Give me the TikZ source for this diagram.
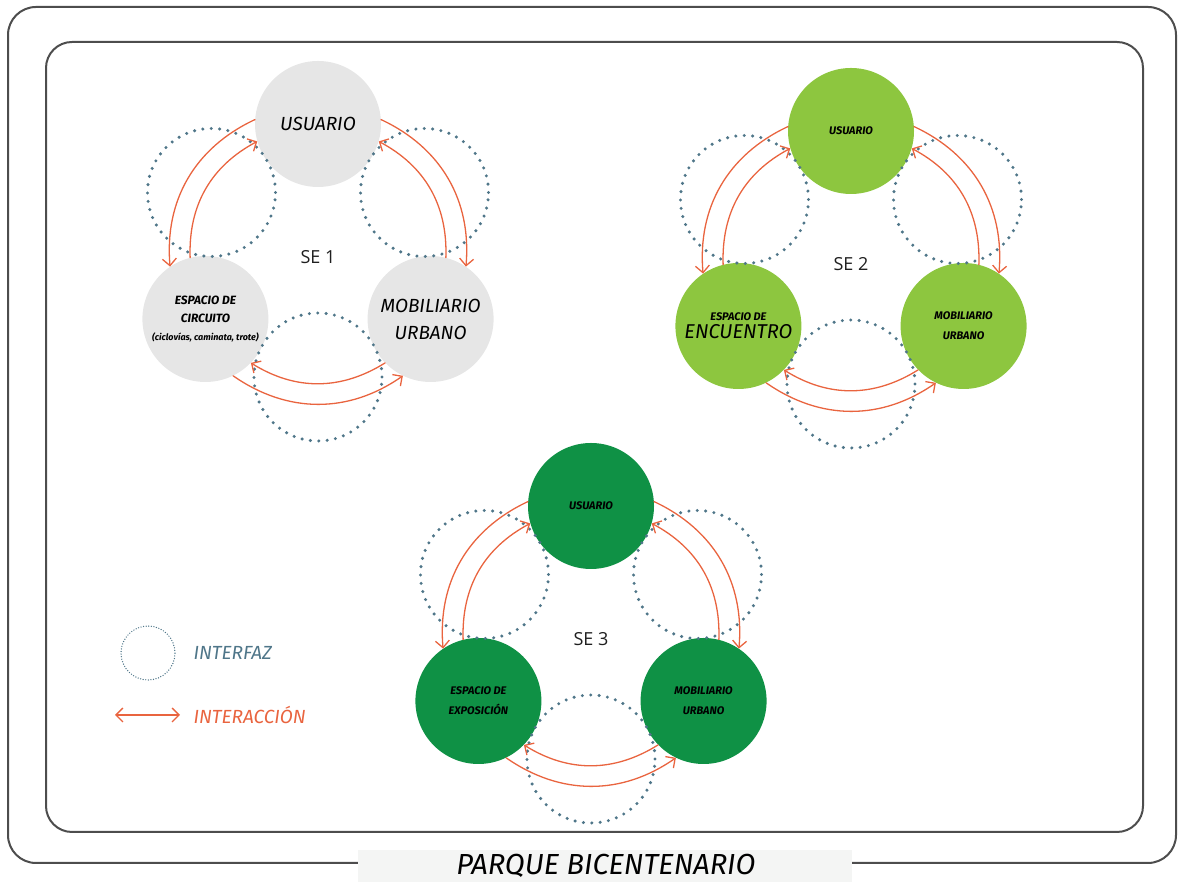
\documentclass[tikz,border=0pt]{standalone}
\usepackage{fontspec}
\setsansfont{Open Sans}
\newfontfamily\handfont{Fira Sans}
\usetikzlibrary{arrows.meta}
\definecolor{framegray}{HTML}{4D4D4D}
\definecolor{capgray}{HTML}{F4F5F4}
\definecolor{nodegray}{HTML}{E6E6E6}
\definecolor{lightgreen}{HTML}{8DC63F}
\definecolor{darkgreen}{HTML}{0F9145}
\definecolor{ifaceblue}{HTML}{4F7689}
\definecolor{interorange}{HTML}{E9643F}
\tikzset{every node/.style={font=\sffamily}}
\tikzset{
  sysnode/.style={circle,minimum size=126pt,inner sep=0pt,align=center,text=black},
  iface/.style={draw=ifaceblue,line width=3.4pt,line cap=round,dash pattern=on 0pt off 8.4pt},
  inter/.style={draw=interorange,line width=1.3pt,-{Straight Barb[length=7pt,width=14pt]}},
  selabel/.style={font=\sffamily\fontsize{18}{20}\selectfont,text=black!88},
  bigtxt/.style={font=\handfont\itshape\fontsize{19}{27}\selectfont},
  smalltxt/.style={font=\handfont\itshape\bfseries\fontsize{11}{20}\selectfont},
}

\begin{document}
\begin{tikzpicture}[x=1pt,y=1pt,line cap=round,line join=round]
  \path[use as bounding box] (0,0) rectangle (1178,882);
  % frames
  \draw[framegray,line width=2pt,rounded corners=28pt] (8,19) rectangle (1176,875);
  \draw[framegray,line width=2pt,rounded corners=26pt] (46,50) rectangle (1143,840);
  \fill[capgray] (358,0) rectangle (852,32);
  \node[font=\handfont\itshape\fontsize{29}{32}\selectfont] (caption) at (606,16) {PARQUE BICENTENARIO};

  % SE 1
  \begin{scope}[shift={(318,628)}]
    \node[sysnode,fill=nodegray,bigtxt] (usu1) at (90:130) {USUARIO};
    \node[sysnode,fill=nodegray,font=\handfont\itshape\bfseries\fontsize{12}{18}\selectfont] (esp1) at (210:130)
      {ESPACIO DE\\CIRCUITO\\{\fontsize{9}{10}\selectfont (ciclovías, caminata, trote)}};
    \node[sysnode,fill=nodegray,bigtxt] (mob1) at (330:130) {MOBILIARIO\\URBANO};
    \draw[iface] (150:123) circle[radius=64];
    \draw[iface] (30:123) circle[radius=64];
    \draw[iface] (270:123) circle[radius=64];
    \node[selabel] (se1) at (0,-3) {SE 1};
  \end{scope}
  \draw[inter] (usu1.176) to[bend right=35] (esp1.124);
  \draw[inter] (esp1.104) to[bend left=32] (usu1.196);
  \draw[inter] (usu1.4) to[bend left=35] (mob1.56);
  \draw[inter] (mob1.76) to[bend right=32] (usu1.344);
  \draw[inter] (esp1.296) to[bend right=35] (mob1.244);
  \draw[inter] (mob1.224) to[bend left=32] (esp1.316);

  % SE 2
  \begin{scope}[shift={(851,621)}]
    \node[sysnode,fill=lightgreen,smalltxt] (usu2) at (90:130) {USUARIO};
    \node[sysnode,fill=lightgreen,smalltxt] (esp2) at (210:130)
      {ESPACIO DE\\[-2pt]{\fontsize{20}{22}\selectfont\mdseries ENCUENTRO}};
    \node[sysnode,fill=lightgreen,smalltxt] (mob2) at (330:130) {MOBILIARIO\\URBANO};
    \draw[iface] (150:123) circle[radius=64];
    \draw[iface] (30:123) circle[radius=64];
    \draw[iface] (270:123) circle[radius=64];
    \node[selabel] (se2) at (0,-3) {SE 2};
  \end{scope}
  \draw[inter] (usu2.176) to[bend right=35] (esp2.124);
  \draw[inter] (esp2.104) to[bend left=32] (usu2.196);
  \draw[inter] (usu2.4) to[bend left=35] (mob2.56);
  \draw[inter] (mob2.76) to[bend right=32] (usu2.344);
  \draw[inter] (esp2.296) to[bend right=35] (mob2.244);
  \draw[inter] (mob2.224) to[bend left=32] (esp2.316);

  % SE 3
  \begin{scope}[shift={(591,246)}]
    \node[sysnode,fill=darkgreen,smalltxt] (usu3) at (90:130) {USUARIO};
    \node[sysnode,fill=darkgreen,smalltxt] (esp3) at (210:130) {ESPACIO DE\\EXPOSICIÓN};
    \node[sysnode,fill=darkgreen,smalltxt] (mob3) at (330:130) {MOBILIARIO\\URBANO};
    \draw[iface] (150:123) circle[radius=64];
    \draw[iface] (30:123) circle[radius=64];
    \draw[iface] (270:123) circle[radius=64];
    \node[selabel] (se3) at (0,-3) {SE 3};
  \end{scope}
  \draw[inter] (usu3.176) to[bend right=35] (esp3.124);
  \draw[inter] (esp3.104) to[bend left=32] (usu3.196);
  \draw[inter] (usu3.4) to[bend left=35] (mob3.56);
  \draw[inter] (mob3.76) to[bend right=32] (usu3.344);
  \draw[inter] (esp3.296) to[bend right=35] (mob3.244);
  \draw[inter] (mob3.224) to[bend left=32] (esp3.316);

  % legend
  \node[circle,minimum size=54pt,draw=ifaceblue,line width=1.4pt,line cap=round,dash pattern=on 0pt off 2.6pt] (lgcirc) at (148,229) {};
  \node[anchor=west,text=ifaceblue,bigtxt] (lgiface) at (190,229) {INTERFAZ};
  \coordinate (lgleft) at (115,167);
  \coordinate (lgright) at (180,167);
  \draw[inter,{Straight Barb[length=7pt,width=14pt]}-{Straight Barb[length=7pt,width=14pt]}] (lgleft) -- (lgright);
  \node[anchor=west,text=interorange,bigtxt] (lginter) at (190,167) {INTERACCIÓN};
\end{tikzpicture}
\end{document}
